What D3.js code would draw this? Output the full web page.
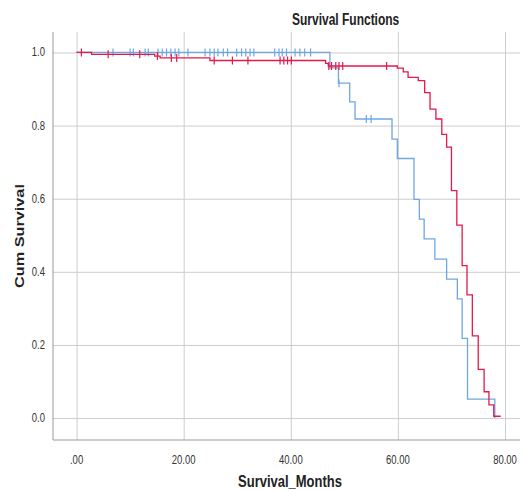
<!DOCTYPE html>
<html>
<head>
<meta charset="utf-8">
<script src="https://cdn.jsdelivr.net/npm/d3@7"></script>
<style>
  html, body { margin: 0; padding: 0; background: #fff; }
  svg { display: block; font-family: Arial, "Liberation Sans", sans-serif; }
</style>
</head>
<body>
<div id="chart"></div>
<script>
// tiempos (meses) y supervivencia acumulada, grupo azul
const blueTimes = [0, 47.3, 48.9, 51.0, 52.0, 58.9, 59.9, 63.0, 64.0, 64.9, 66.9, 69.1, 71.1, 72.0, 73.0, 78.1];
const blueSurv  = [1.0, 0.958, 0.916, 0.865, 0.818, 0.763, 0.710, 0.598, 0.544, 0.490, 0.435, 0.380, 0.326, 0.218, 0.052, 0.0];
const blueEnd = 78.1;
const blueCensored = [6.8, 10.0, 10.6, 12.8, 13.4, 15.2, 16.0, 16.8, 17.6, 18.4, 19.1, 20.8, 24.0, 24.9, 25.7,
  26.4, 27.4, 28.2, 29.9, 30.8, 31.6, 32.4, 33.1, 37.0, 37.8, 38.4, 39.2, 40.8, 41.7, 42.6, 43.7, 49.0, 54.1, 55.0];

// grupo rojo
const redTimes = [0, 2.8, 14.6, 15.6, 24.9, 46.5, 47.0, 59.9, 61.0, 61.9, 63.8, 65.0, 66.0, 67.1, 68.2, 69.1,
  70.0, 71.0, 72.0, 72.9, 73.9, 75.0, 76.1, 77.0, 77.9];
const redSurv  = [1.0, 0.995, 0.990, 0.985, 0.978, 0.970, 0.963, 0.957, 0.947, 0.932, 0.923, 0.890, 0.845, 0.818,
  0.776, 0.741, 0.622, 0.528, 0.417, 0.337, 0.225, 0.133, 0.072, 0.036, 0.005];
const redEnd = 79.2;
const redCensored = [0.9, 5.9, 11.8, 15.1, 17.7, 18.7, 25.7, 29.1, 32.0, 38.0, 38.7, 39.4, 40.1,
  47.1, 47.6, 48.4, 49.0, 49.7, 57.9];

const xTicks = [0, 20, 40, 60, 80];
const xTickLabels = [".00", "20.00", "40.00", "60.00", "80.00"];
const yTicks = [0, 0.2, 0.4, 0.6, 0.8, 1.0];
const yTickLabels = ["0.0", "0.2", "0.4", "0.6", "0.8", "1.0"];

const width = 525;
const height = 491;
const plotLeft = 53, plotRight = 520, plotTop = 32, plotBottom = 440;
const sy = 1.3; // el texto de la imagen está estirado en vertical

const svg = d3.create("svg")
  .attr("width", width)
  .attr("height", height)
  .attr("viewBox", [0, 0, width, height]);
d3.select("#chart").append(() => svg.node());

const x = d3.scaleLinear().domain([-4.4, 82.8]).range([plotLeft, plotRight]);
const y = d3.scaleLinear().domain([-0.06, 1.056]).range([plotBottom, plotTop]);

// rejilla
svg.append("g")
  .attr("transform", `translate(0,${plotBottom})`)
  .call(d3.axisBottom(x).tickValues(xTicks).tickSize(-(plotBottom - plotTop)).tickFormat(""))
  .call(g => g.select(".domain").remove())
  .call(g => g.selectAll(".tick line").attr("stroke", "#cdcdcd"));
svg.append("g")
  .attr("transform", `translate(${plotLeft},0)`)
  .call(d3.axisLeft(y).tickValues(yTicks).tickSize(-(plotRight - plotLeft)).tickFormat(""))
  .call(g => g.select(".domain").remove())
  .call(g => g.selectAll(".tick line").attr("stroke", "#cdcdcd"));

// ejes
svg.append("line").attr("x1", plotLeft).attr("x2", plotLeft).attr("y1", plotTop).attr("y2", plotBottom)
  .attr("stroke", "#9a9a9a");
svg.append("line").attr("x1", plotLeft).attr("x2", plotRight).attr("y1", plotBottom).attr("y2", plotBottom)
  .attr("stroke", "#9a9a9a");

// etiquetas de los ticks
svg.append("g").selectAll("text")
  .data(xTicks)
  .join("text")
  .attr("transform", d => `translate(${x(d)},${plotBottom + 24}) scale(1,${sy})`)
  .attr("text-anchor", "middle")
  .attr("font-size", 9.5)
  .attr("fill", "#333")
  .text((d, i) => xTickLabels[i]);
svg.append("g").selectAll("text")
  .data(yTicks)
  .join("text")
  .attr("transform", d => `translate(${plotLeft - 8},${y(d) + 4}) scale(1,${sy})`)
  .attr("text-anchor", "end")
  .attr("font-size", 9.5)
  .attr("fill", "#333")
  .text((d, i) => yTickLabels[i]);

// títulos
svg.append("text")
  .attr("transform", `translate(292,25) scale(1,${sy})`)
  .attr("font-size", 12)
  .attr("font-weight", "bold")
  .attr("fill", "#222")
  .text("Survival Functions");
svg.append("text")
  .attr("transform", `translate(290,487) scale(1,${sy})`)
  .attr("text-anchor", "middle")
  .attr("font-size", 13)
  .attr("font-weight", "bold")
  .attr("fill", "#222")
  .text("Survival_Months");
svg.append("text")
  .attr("transform", `translate(24,236) scale(1,${sy}) rotate(-90)`)
  .attr("text-anchor", "middle")
  .attr("font-size", 12.5)
  .attr("font-weight", "bold")
  .attr("fill", "#222")
  .text("Cum Survival");

// curvas escalonadas + marcas de censura
const line = d3.line().x(d => x(d[0])).y(d => y(d[1])).curve(d3.curveStepAfter);

function drawGroup(times, surv, end, censored, color) {
  const pts = times.map((t, i) => [t, surv[i]]);
  if (end > times[times.length - 1]) pts.push([end, surv[surv.length - 1]]);
  svg.append("path")
    .attr("d", line(pts))
    .attr("fill", "none")
    .attr("stroke", color)
    .attr("stroke-width", 1.3);
  svg.append("g")
    .selectAll("line")
    .data(censored)
    .join("line")
    .attr("x1", d => x(d)).attr("x2", d => x(d))
    .attr("y1", d => y(surv[d3.bisectRight(times, d) - 1]) - 4)
    .attr("y2", d => y(surv[d3.bisectRight(times, d) - 1]) + 4)
    .attr("stroke", color)
    .attr("stroke-width", 1.2);
}

drawGroup(blueTimes, blueSurv, blueEnd, blueCensored, "#6fa6e4");
drawGroup(redTimes, redSurv, redEnd, redCensored, "#e5194b");
</script>
</body>
</html>
